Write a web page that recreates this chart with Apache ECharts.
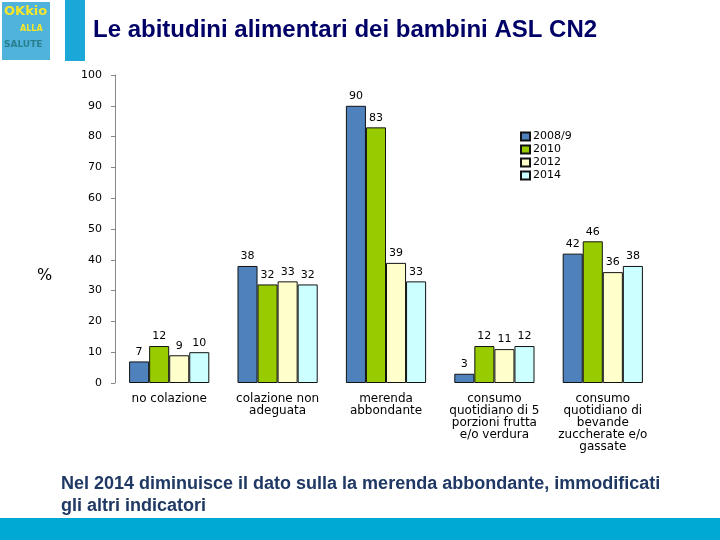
<!DOCTYPE html>
<html><head><meta charset="utf-8">
<script src="https://cdn.jsdelivr.net/npm/echarts@6/dist/echarts.min.js"></script>
<style>html,body{margin:0;padding:0;background:#fff}#c{width:720px;height:540px}</style>
</head><body><div id="c"></div>
<script>
const categories = ['no colazione','colazione non\nadeguata','merenda\nabbondante','consumo\nquotidiano di 5\nporzioni frutta\ne/o verdura','consumo\nquotidiano di\nbevande\nzuccherate e/o\ngassate'];
const seriesNames = ['2008/9','2010','2012','2014'];
const v2008 = [7, 38, 90, 3, 42];
const v2010 = [12, 32, 83, 12, 46];
const v2012 = [9, 33, 39, 11, 36];
const v2014 = [10, 32, 33, 12, 38];
const yTicks = [0,10,20,30,40,50,60,70,80,90,100];
const colors = ['#4F81BD','#99CC00','#FFFFCC','#CCFFFF'];
const values = [v2008, v2010, v2012, v2014];

const chart = echarts.init(document.getElementById('c'));
chart.setOption({
  animation:false,
  backgroundColor:'#fff',
  title:{text:'Le abitudini alimentari dei bambini ASL CN2', left:88, top:13,
    textStyle:{fontFamily:'Liberation Sans, Arial', fontSize:24, fontWeight:'bold', color:'#000066'}},
  legend:{orient:'vertical', left:515, top:126, itemWidth:9, itemHeight:8, itemGap:2,
    data:seriesNames, icon:'rect',
    textStyle:{fontFamily:'DejaVu Sans', fontSize:11, color:'#000', padding:[0,0,0,-2]}},
  grid:{left:115, right:63, top:75, bottom:157},
  xAxis:{type:'category', data:categories,
    axisLine:{show:false}, axisTick:{show:false},
    axisLabel:{interval:0, fontFamily:'DejaVu Sans', fontSize:12, color:'#000', lineHeight:12, margin:10}},
  yAxis:{type:'value', min:0, max:100, interval:10,
    axisLine:{show:true, lineStyle:{color:'#888'}},
    axisTick:{show:true, length:4, lineStyle:{color:'#888'}},
    splitLine:{show:false},
    axisLabel:{fontFamily:'DejaVu Sans', fontSize:11, color:'#000', margin:13,
      formatter:v=> yTicks.includes(v)? String(v):''}},
  series: seriesNames.map((n,i)=>({
    name:n, type:'bar', data:values[i], barGap:'0%', barCategoryGap:'26%',
    itemStyle:{color:colors[i], borderColor:'#111', borderWidth:1},
    label:{show:true, position:'top', distance:4, fontFamily:'DejaVu Sans', fontSize:11, color:'#000'}
  })),
  graphic:[
    {type:'rect', shape:{x:2,y:2,width:48,height:58}, style:{fill:'#4FB3DC'}},
    {type:'text', left:4, top:5, style:{text:'OKkio', fill:'#F5E62A', font:'bold 13px DejaVu Sans'}},
    {type:'text', left:20, top:25, style:{text:'ALLA', fill:'#F5E62A', font:'bold 8px DejaVu Sans'}},
    {type:'text', left:4, top:40, style:{text:'SALUTE', fill:'#2A7F8F', font:'bold 9px DejaVu Sans'}},
    {type:'rect', shape:{x:65,y:0,width:20,height:61}, style:{fill:'#1BA8D8'}},
    {type:'text', left:37, top:268, style:{text:'%', fill:'#000', font:'16px DejaVu Sans'}},
    {type:'text', left:61, top:473, style:{text:'Nel 2014 diminuisce il dato sulla la merenda abbondante, immodificati\ngli altri indicatori', fill:'#1F3864', font:'bold 18px "Liberation Sans Narrow", "Liberation Sans", Arial', lineHeight:22}},
    {type:'rect', shape:{x:0,y:518,width:720,height:22}, style:{fill:'#00A8D4'}}
  ]
});
</script></body></html>
